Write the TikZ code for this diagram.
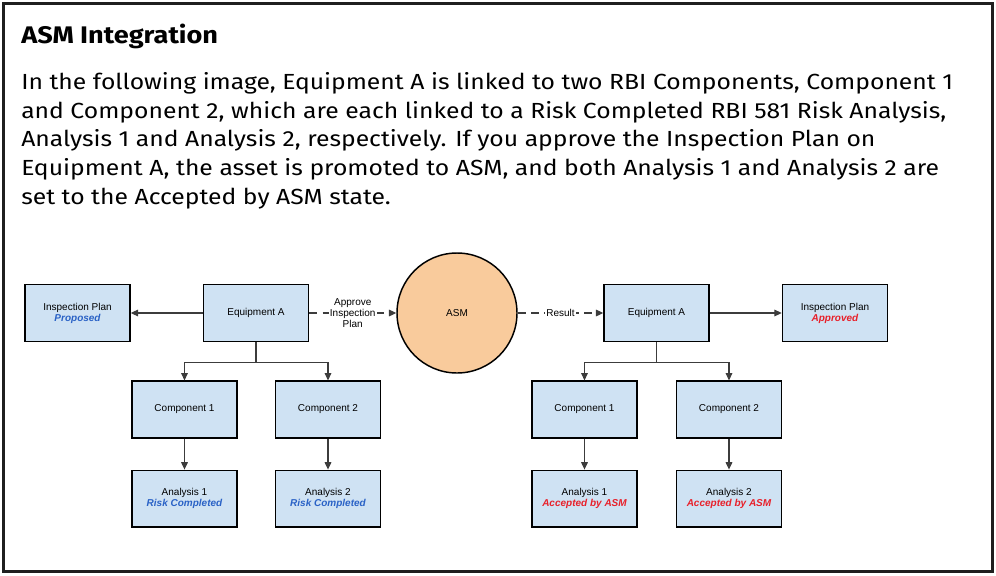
\documentclass[tikz,border=0pt]{standalone}
\usepackage{fontspec}
\setmainfont{Fira Sans}[FakeStretch=1.13]
\newfontfamily\diagfont{Liberation Sans}
\usepackage{xcolor}
\usetikzlibrary{arrows.meta,positioning,calc}
\definecolor{boxfill}{HTML}{CFE2F3}
\definecolor{asmfill}{HTML}{F9CB9C}
\definecolor{stateblue}{HTML}{2A62C6}
\definecolor{statered}{HTML}{E8202A}
\definecolor{linegray}{HTML}{3C3C3C}

\begin{document}
\begin{tikzpicture}[
        x=0.75pt, y=-0.75pt,
        node distance=23.25pt and 54pt,
        box/.style={rectangle,draw=black,line width=1.1pt,fill=boxfill,minimum width=78.75pt,minimum height=42.5pt,align=center,inner sep=1pt,font=\diagfont\fontsize{7.5}{8.3}\selectfont},
        hub/.style={circle,draw=black,line width=1.1pt,fill=asmfill,minimum size=90pt,inner sep=0pt,font=\diagfont\fontsize{7.5}{8.3}\selectfont},
        arrow/.style={-{Triangle[length=5.5pt,width=5pt]},draw=linegray,line width=0.8pt},
        link/.style={draw=linegray,line width=0.8pt},
        dasharrow/.style={arrow,dash pattern=on 6pt off 4pt},
        tag/.style={fill=white,inner sep=1pt,align=center,font=\diagfont\fontsize{7.5}{8.3}\selectfont}
    ]
        \useasboundingbox (0,0) rectangle (996,575);
        \draw[line width=1.9pt,draw=black!88] (3.5,3.5) rectangle (992.5,571.5);

        % text above the diagram
        \node[anchor=base west,inner sep=0pt,font=\bfseries\fontsize{18}{20}\selectfont] (title) at (21,43) {ASM Integration};
        \node[anchor=base west,inner sep=0pt,align=left,font=\fontsize{16.4}{21.4}\selectfont] (intro) at (21,204)
            {In the following image, Equipment A is linked to two RBI Components, Component 1\\
             and Component 2, which are each linked to a Risk Completed RBI 581 Risk Analysis,\\
             Analysis 1 and Analysis 2, respectively. If you approve the Inspection Plan on\\
             Equipment A, the asset is promoted to ASM, and both Analysis 1 and Analysis 2 are\\
             set to the Accepted by ASM state.};

        % before ASM
        \node[box] (eqL) at (256,313) {Equipment A};
        \node[box, left=of eqL] (inspL) {Inspection Plan\\{\bfseries\itshape\color{stateblue}Proposed}};
        \node[box] (comp1L) at (184.5,409.5) {Component 1};
        \node[box] (comp2L) at (328,409.5) {Component 2};
        \node[box, below=of comp1L] (an1L) {Analysis 1\\{\bfseries\itshape\color{stateblue}Risk Completed}};
        \node[box, below=of comp2L] (an2L) {Analysis 2\\{\bfseries\itshape\color{stateblue}Risk Completed}};

        \node[hub] (asm) at (457,313) {ASM};

        % after ASM
        \node[box] (eqR) at (656.5,313) {Equipment A};
        \node[box, right=of eqR] (inspR) {Inspection Plan\\{\bfseries\itshape\color{statered}Approved}};
        \node[box] (comp1R) at (584.5,409.5) {Component 1};
        \node[box] (comp2R) at (729,409.5) {Component 2};
        \node[box, below=of comp1R] (an1R) {Analysis 1\\{\bfseries\itshape\color{statered}Accepted by ASM}};
        \node[box, below=of comp2R] (an2R) {Analysis 2\\{\bfseries\itshape\color{statered}Accepted by ASM}};

        \draw[arrow] (eqL.west) -- (inspL.east);
        \draw[link] (eqL.south) -- ++(0,20) coordinate (forkL);
        \draw[arrow] (forkL) -| (comp1L.north);
        \draw[arrow] (forkL) -| (comp2L.north);
        \draw[arrow] (comp1L.south) -- (an1L.north);
        \draw[arrow] (comp2L.south) -- (an2L.north);

        \draw[dasharrow] (eqL.east) -- node[tag] (approve) {Approve\\Inspection\\Plan} (asm.west);
        \draw[dasharrow] (asm.east) -- node[tag] (result) {Result} (eqR.west);

        \draw[arrow] (eqR.east) -- (inspR.west);
        \draw[link] (eqR.south) -- ++(0,20) coordinate (forkR);
        \draw[arrow] (forkR) -| (comp1R.north);
        \draw[arrow] (forkR) -| (comp2R.north);
        \draw[arrow] (comp1R.south) -- (an1R.north);
        \draw[arrow] (comp2R.south) -- (an2R.north);
    \end{tikzpicture}
\end{document}
